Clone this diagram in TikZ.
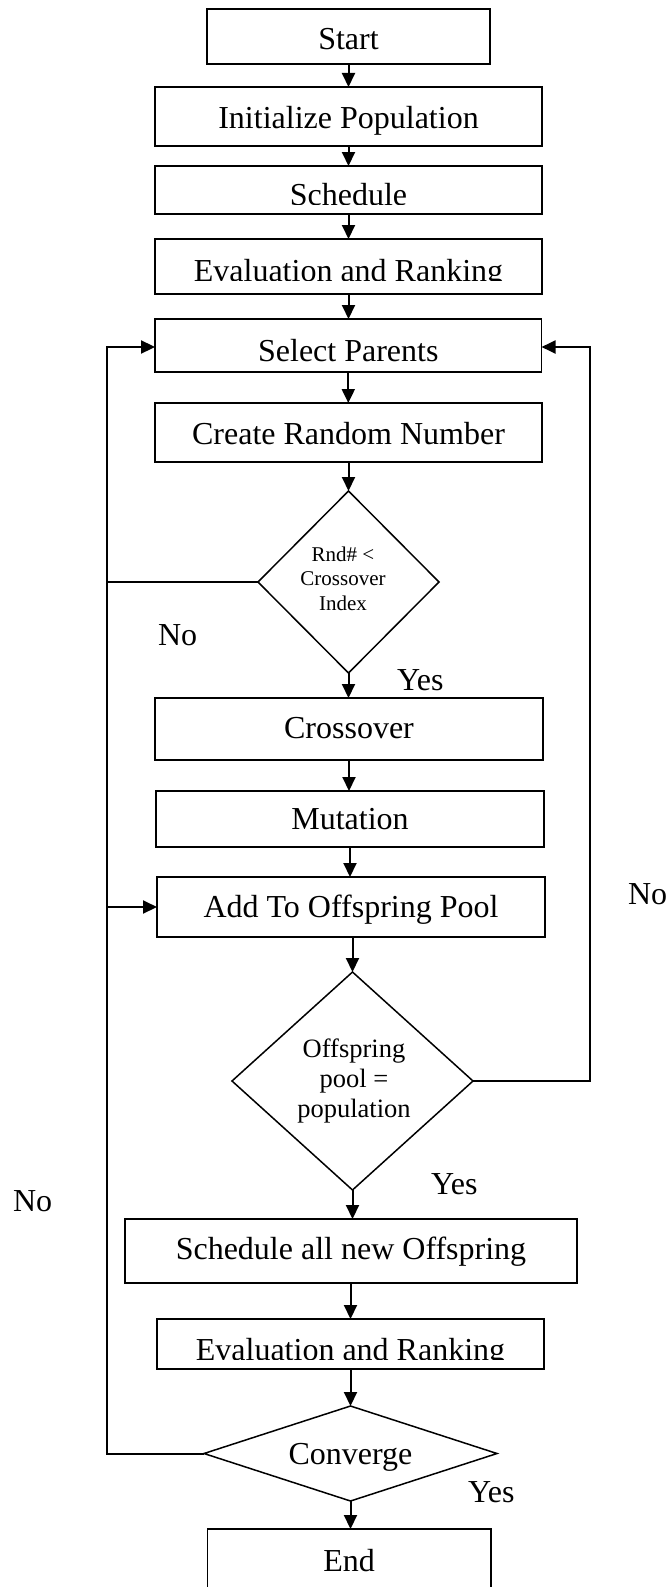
\documentclass[tikz,border=0pt]{standalone}
\usepackage{fontspec}
\setmainfont{Liberation Serif}
\usetikzlibrary{arrows.meta,shapes.geometric}
\newcommand{\bigfs}{\fontsize{32}{38}\selectfont}
\begin{document}
\begin{tikzpicture}[x=1pt,y=-1pt,
  box/.style={draw,line width=1.8pt,rectangle,inner sep=0pt,outer sep=0pt,text depth=0pt,font=\bigfs},
  dia/.style={draw,line width=1.5pt,diamond,inner sep=0pt,outer sep=0pt},
  txt/.style={inner sep=0pt,outer sep=0pt,font=\bigfs},
  lbl/.style={inner sep=0pt,outer sep=0pt,font=\bigfs,anchor=base west},
  arr/.style={line width=2pt,-{Triangle[length=14pt,width=13pt]}},
]
\useasboundingbox (0,0) rectangle (669,1587);

% boxes
\node[box,minimum width=283pt,minimum height=55pt,text height=27pt] (start) at (348.5,36.5) {Start};
\node[box,minimum width=387pt,minimum height=59pt,text height=23pt] (init) at (348.5,116.5) {Initialize Population};
\node[box,minimum width=387pt,minimum height=48pt] (sched) at (348.5,190) {};
\begin{scope}
  \clip (0,0) rectangle (669,204.5);
  \node[txt,anchor=base] (schedt) at (348.5,205.5) {Schedule};
\end{scope}
\node[box,minimum width=387pt,minimum height=55pt] (eval) at (348.5,266.5) {};
\begin{scope}
  \clip (0,0) rectangle (669,280);
  \node[txt,anchor=base] (evalt) at (348.5,281) {Evaluation and Ranking};
\end{scope}
\node[box,minimum width=386.5pt,minimum height=53pt,text height=31pt] (sel) at (348.3,345.5) {Select Parents};
\node[box,minimum width=387pt,minimum height=59pt,text height=23pt] (rand) at (348.5,432.5) {Create Random Number};
\node[dia,minimum width=181pt,minimum height=182pt] (d1) at (348.5,582) {};
\node[inner sep=0pt,font=\fontsize{21}{24.5}\selectfont,align=center] (d1t) at (343,578.4) {Rnd\# <\\Crossover\\Index};
\node[box,minimum width=388pt,minimum height=62pt,text height=18pt] (cross) at (349,729) {Crossover};
\node[box,minimum width=388pt,minimum height=56pt,text height=20pt] (mut) at (350,819) {Mutation};
\node[box,minimum width=388pt,minimum height=60pt,text height=20pt] (add) at (351,907) {Add To Offspring Pool};
\node[dia,minimum width=241pt,minimum height=218pt] (d2) at (352.5,1081) {};
\node[inner sep=0pt,font=\fontsize{26.5}{30}\selectfont,align=center] (d2t) at (354,1081) {Offspring\\pool =\\population};
\node[box,minimum width=452pt,minimum height=64pt,text height=16pt] (schedall) at (351,1251) {Schedule all new Offspring};
\node[box,minimum width=387pt,minimum height=50pt] (eval2) at (350.5,1344) {};
\begin{scope}
  \clip (0,0) rectangle (669,1359);
  \node[txt,anchor=base] (eval2t) at (350.5,1360) {Evaluation and Ranking};
\end{scope}
\node[dia,minimum width=293pt,minimum height=95pt] (conv) at (350.5,1453.5) {};
\node[txt,anchor=base] (convt) at (350.5,1464) {Converge};
\node[box,minimum width=283.5pt,minimum height=71pt,text height=13pt] (endb) at (349.2,1564.5) {End};

% labels
\node[lbl] (no1) at (158,645) {No};
\node[lbl] (yes1) at (397,690) {Yes};
\node[lbl] (no2) at (628,904) {No};
\node[lbl] (yes2) at (431,1194) {Yes};
\node[lbl] (no3) at (13,1211) {No};
\node[lbl] (yes3) at (468,1502) {Yes};

% straight connectors
\draw[arr] (start.south) -- (start.south |- init.north);
\draw[arr] (init.south) -- (init.south |- sched.north);
\draw[arr] (sched.south) -- (sched.south |- eval.north);
\draw[arr] (eval.south) -- (eval.south |- sel.north);
\draw[arr] (sel.south) -- (sel.south |- rand.north);
\draw[arr] (rand.south) -- (rand.south |- d1.north);
\draw[arr] (d1.south) -- (d1.south |- cross.north);
\draw[arr] (cross.south) -- (cross.south |- mut.north);
\draw[arr] (mut.south) -- (mut.south |- add.north);
\draw[arr] (d2.north |- add.south) -- (d2.north);
\draw[arr] (d2.south) -- (d2.south |- schedall.north);
\draw[arr] (eval2.north |- schedall.south) -- (eval2.north);
\draw[arr] (eval2.south) -- (eval2.south |- conv.north);
\draw[arr] (conv.south) -- (conv.south |- endb.north);

% loops
\coordinate (l1) at (107,582);
\coordinate (l2) at (107,907);
\coordinate (l3) at (107,1453.5);
\coordinate (l4) at (107,347);
\coordinate (r1) at (590,1081);
\coordinate (r2) at (590,347);
\draw[arr] (d1.west) -- (l1) -- (l2) -- (add.west |- l2);
\draw[arr] (conv.west) -- (l3) -- (l4) -- (sel.west |- l4);
\draw[arr] (d2.east) -- (r1) -- (r2) -- (sel.east |- r2);
\end{tikzpicture}
\end{document}
